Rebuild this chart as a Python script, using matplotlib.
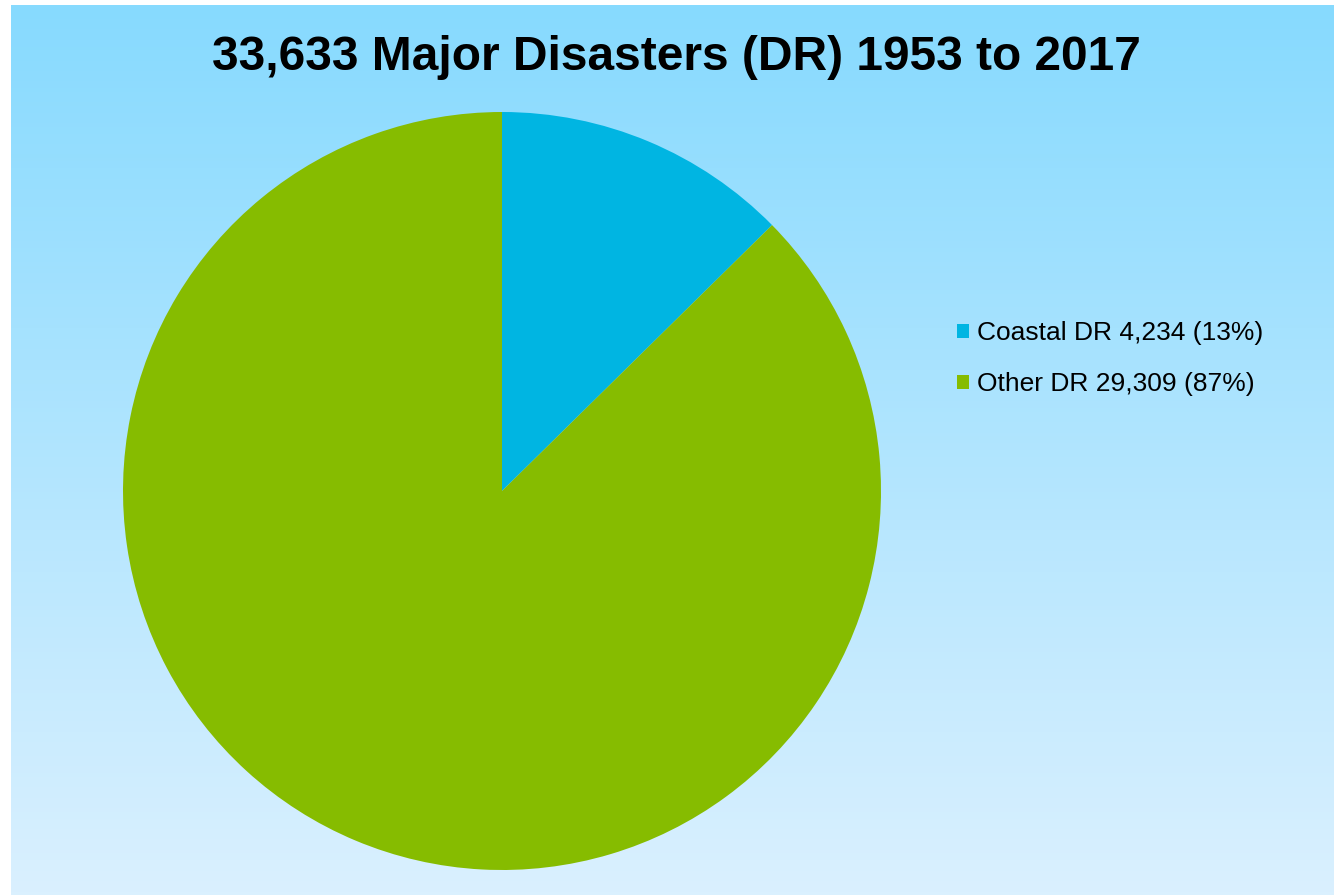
import matplotlib.pyplot as plt
import numpy as np

# Data
labels = ['Coastal DR', 'Other DR']
counts = [4234, 29309]
colors = ['#00B5E2', '#86BC00']
total = sum(counts)
title = '33,633 Major Disasters (DR) 1953 to 2017'

W, H = 1334, 896
fig = plt.figure(figsize=(W / 100, H / 100), dpi=100)
fig.patch.set_facecolor('white')

# gradient background panel
bg = fig.add_axes([11 / W, 1 / H, (W - 11) / W, (H - 6) / H])
top = np.array([135, 218, 254]) / 255
bottom = np.array([218, 240, 254]) / 255
t = np.linspace(0, 1, 256)[:, None]
grad = top * (1 - t) + bottom * t
bg.imshow(grad[:, None, :], aspect='auto', extent=[0, 1, 0, 1])
bg.axis('off')

plt.rcParams['font.family'] = ['Liberation Sans', 'DejaVu Sans']

# pie
cx, cy, r = 502, 491, 379
ax = fig.add_axes([(cx - r) / W, (H - cy - r) / H, 2 * r / W, 2 * r / H])
wedges, _ = ax.pie(counts, colors=colors, startangle=90, counterclock=False,
                   wedgeprops=dict(linewidth=0))
ax.set_xlim(-1, 1)
ax.set_ylim(-1, 1)
ax.axis('off')

fig.text(676 / W, 1 - 57 / H, title, ha='center', va='center',
         fontsize=34.5, fontweight='bold')

leg_labels = ['{} {:,} ({:.0f}%)'.format(l, c, 100 * c / total)
              for l, c in zip(labels, counts)]
fig.legend(wedges, leg_labels, loc='upper left',
           bbox_to_anchor=(957 / W, 1 - 321 / H), frameon=False,
           fontsize=19, handlelength=0.45, handleheight=0.45,
           handletextpad=0.3, labelspacing=1.03, borderpad=0,
           borderaxespad=0)

fig.savefig('out.png', dpi=100)
